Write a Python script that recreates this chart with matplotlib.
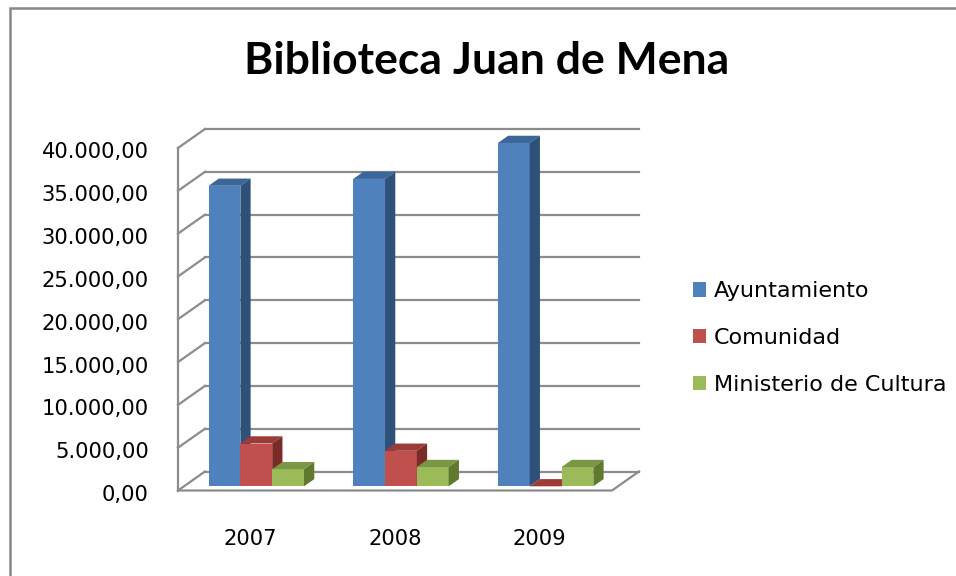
import numpy as np
import matplotlib.pyplot as plt
from matplotlib.patches import Polygon, Rectangle
from matplotlib.transforms import ScaledTranslation

years = ['2007', '2008', '2009']
series = ['Ayuntamiento', 'Comunidad', 'Ministerio de Cultura']
ayuntamiento = [35100, 35900, 40100]
comunidad = [5000, 4150, 0]
ministerio = [2000, 2250, 2250]
yticks = [0, 5000, 10000, 15000, 20000, 25000, 30000, 35000, 40000]

values = [ayuntamiento, comunidad, ministerio]
front = ['#4F81BD', '#C0504D', '#9BBB59']
top = ['#3C659A', '#9C3B38', '#7B9645']
side = ['#2F5079', '#7A2B28', '#61782F']
grid = '#8C8C8C'

W, H = 956, 576
fig = plt.figure(figsize=(W / 100, H / 100), dpi=100)
plt.rcParams['font.family'] = 'DejaVu Sans'

# front plane of the 3d box, in pixels
left, right, bottom, topy = 178, 612, 490.5, 148
ax = fig.add_axes([left / W, (H - bottom) / H, (right - left) / W, (bottom - topy) / H])
ax.set_xlim(-0.5, 2.5)
ax.set_ylim(0, 40000)
for s in ax.spines.values():
    s.set_visible(False)

# pixel -> data units
xu = 3.0 / (right - left)
yu = 40000.0 / (bottom - topy)
DX, DY = 27 * xu, 19 * yu      # full depth of the box
f0, f1 = 0.22, 0.6             # bar front / back as fraction of depth

# walls and floor
x0, x1 = -0.5, 2.5
for v in yticks:
    ax.plot([x0 + DX, x1 + DX], [v + DY, v + DY], color=grid, lw=1.6, clip_on=False, zorder=1)
    ax.plot([x0, x0 + DX], [v, v + DY], color=grid, lw=1.6, clip_on=False, zorder=1)
ax.plot([x0, x1, x1 + DX], [0, 0, DY], color=grid, lw=1.6, clip_on=False, zorder=1)
ax.plot([x0, x0], [0, 40000], color=grid, lw=1.6, clip_on=False, zorder=1)

# bars
bw = 0.22
z = 2
handles = []
for i in range(len(years)):
    for j in range(len(series)):
        v = values[j][i]
        xl = i + (j - 1) * bw - bw / 2 + f0 * DX
        b0 = f0 * DY
        d, dy = (f1 - f0) * DX, (f1 - f0) * DY
        r = ax.bar(xl, v, width=bw, bottom=b0, align='edge', color=front[j],
                   zorder=z, clip_on=False)
        if i == 0:
            handles.append(r)
        T = b0 + v
        xr = xl + bw
        ax.add_patch(Polygon([(xl, T), (xr, T), (xr + d, T + dy), (xl + d, T + dy)],
                             closed=True, facecolor=top[j], edgecolor='none', zorder=z, clip_on=False))
        ax.add_patch(Polygon([(xr, b0), (xr + d, b0 + dy), (xr + d, T + dy), (xr, T)],
                             closed=True, facecolor=side[j], edgecolor='none', zorder=z, clip_on=False))
        z += 1

ax.set_yticks(yticks)
ax.set_yticklabels(['{:,.2f}'.format(v).replace(',', 'X').replace('.', ',').replace('X', '.') for v in yticks],
                   fontsize=15.2)
ax.set_xticks(range(len(years)))
ax.set_xticklabels(years, fontsize=15.2)
ax.tick_params(axis='y', length=0, pad=21)
ax.tick_params(axis='x', length=0, pad=28)
off = ScaledTranslation(0, -0.025, fig.dpi_scale_trans)
for lab in ax.get_yticklabels():
    lab.set_transform(lab.get_transform() + off)

fig.text(487 / W, 1 - 61 / H, 'Biblioteca Juan de Mena', ha='center', va='center',
         fontsize=32, fontweight='bold', family='Lato')

fig.legend(handles=handles, labels=series, loc='center left',
           bbox_to_anchor=(673 / W, 1 - 338 / H), frameon=False, fontsize=16,
           handlelength=0.6, handleheight=0.6, handletextpad=0.35, labelspacing=1.2)

# chart frame
fig.patches.append(Rectangle((10 / W, -0.05), 1.2, 1 - 8 / H + 0.05, transform=fig.transFigure,
                             fill=False, edgecolor='#878787', lw=1.8))

fig.savefig('out.png', dpi=100)
